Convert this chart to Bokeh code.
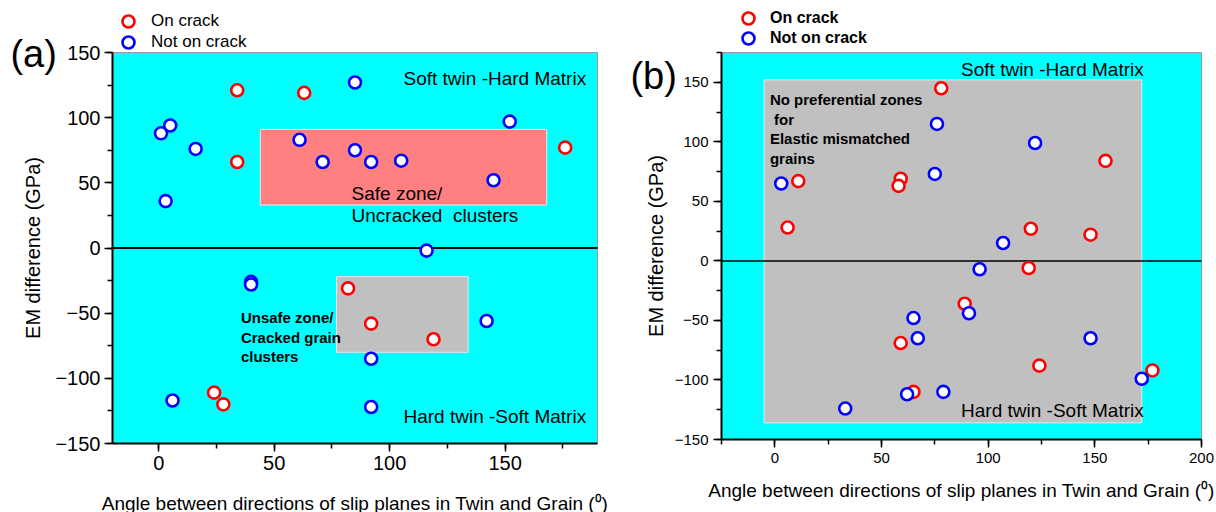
from bokeh.plotting import figure
from bokeh.models import (Range1d, SingleIntervalTicker, LinearAxis, Label, Legend,
                          LegendItem)
from bokeh.layouts import row
from bokeh.embed import file_html
from bokeh.resources import INLINE

FONT = "Liberation Sans"
CYAN = "#00FFFF"
RED = "#FF0000"
BLUE = "#0000FF"
NB = "\u00a0"

# ---- panel (a): angle (deg) vs elastic modulus difference (GPa)
a_crack_angle = [34, 63, 34, 176, 82, 92, 119, 24, 28]
a_crack_em = [121, 119, 66, 77, -31, -58, -70, -111, -120]
a_free_angle = [1, 5, 16, 3, 61, 85, 71, 85, 92, 105, 152, 145, 116, 40, 40, 142, 92, 92, 6]
a_free_em = [88, 94, 76, 36, 83, 127, 66, 75, 66, 67, 97, 52, -2, -26, -28, -56, -85, -122, -117]
a_x_limits = (-20, 190)
a_y_limits = (-150, 150)

# ---- panel (b)
b_crack_angle = [11, 6, 59, 58, 78, 155, 120, 148, 119, 89, 124, 177, 65, 59]
b_crack_em = [67, 28, 69, 63, 145, 84, 27, 22, -6, -36, -88, -92, -110, -69]
b_free_angle = [3, 76, 75, 122, 107, 96, 91, 148, 172, 79, 65, 67, 62, 33]
b_free_em = [65, 115, 73, 99, 15, -7, -44, -65, -99, -110, -48, -65, -112, -124]
b_x_limits = (-25, 200)
b_y_limits = (-150, 175)

# zone rectangles: (left, right, bottom, top) in data units
a_safe_zone = (44, 168, 33, 91)
a_unsafe_zone = (77, 134, -80, -22)
b_neutral_zone = (-5, 172, -136, 152)

LEGEND_LABELS = ["On crack", "Not on crack"]
X_TITLE = "Angle between directions of slip planes in Twin and Grain (\u2070)"
Y_TITLE = "EM difference (GPa)"

W, H = 608, 512


def canvas_range(limits, px_lo, px_hi, px_size):
    """Range for the whole canvas so that the axis limits land on px_lo/px_hi."""
    lo, hi = limits
    scale = (px_hi - px_lo) / (hi - lo)
    return Range1d(lo - px_lo / scale, hi + (px_size - px_hi) / scale)


def make_panel(xlim, ylim, box, tick_size, y_title_standoff, x_title_standoff):
    # box = left, right, top, bottom pixel edges of the axes rectangle
    left, right, top, bottom = box
    p = figure(width=W, height=H, output_backend="svg", toolbar_location=None,
               x_axis_type=None, y_axis_type=None,
               x_range=canvas_range(xlim, left, right, W),
               y_range=canvas_range(ylim, H - bottom, H - top, H),
               min_border=0)
    p.background_fill_color = "white"
    p.border_fill_color = "white"
    p.outline_line_color = None

    # plotting area
    p.quad(left=[xlim[0]], right=[xlim[1]], bottom=[ylim[0]], top=[ylim[1]],
           fill_color=CYAN, line_color="#9a9a9a", line_width=1)

    xaxis = LinearAxis(fixed_location=ylim[0], bounds=xlim,
                       ticker=SingleIntervalTicker(interval=50, num_minor_ticks=2))
    yaxis = LinearAxis(fixed_location=xlim[0], bounds=ylim,
                       ticker=SingleIntervalTicker(interval=50, num_minor_ticks=2))
    for ax in (xaxis, yaxis):
        ax.axis_line_color = "black"
        ax.axis_line_width = 2
        ax.major_tick_line_color = "black"
        ax.major_tick_line_width = 1.5
        ax.minor_tick_line_color = "black"
        ax.minor_tick_line_width = 1.5
        ax.major_tick_in = 0
        ax.major_tick_out = 8
        ax.minor_tick_in = 0
        ax.minor_tick_out = 5
        ax.major_label_text_font = FONT
        ax.major_label_text_font_size = tick_size
        ax.major_label_text_color = "black"
        ax.axis_label_text_font = FONT
        ax.axis_label_text_font_style = "normal"
        ax.axis_label_text_color = "black"
        ax.major_label_standoff = 4
    xaxis.axis_label = X_TITLE
    yaxis.axis_label = Y_TITLE
    xaxis.axis_label_text_font_size = "19px"
    yaxis.axis_label_text_font_size = "20px"
    xaxis.axis_label_standoff = x_title_standoff
    yaxis.axis_label_standoff = y_title_standoff
    p.add_layout(xaxis, "below")
    p.add_layout(yaxis, "left")
    return p, xaxis, yaxis


def add_zone(p, zone, color):
    l, r, b, t = zone
    p.quad(left=[l], right=[r], bottom=[b], top=[t], fill_color=color,
           line_color="#e8e8e8", line_width=1)


def add_zero_line(p, xlim, width):
    p.line(x=list(xlim), y=[0, 0], line_color="black", line_width=width)


def add_points(p, cx, cy, fx, fy):
    rc = p.scatter(x=cx, y=cy, size=12, marker="circle", fill_color="white",
                   line_color=RED, line_width=2.6)
    rf = p.scatter(x=fx, y=fy, size=12, marker="circle", fill_color="white",
                   line_color=BLUE, line_width=2.6)
    return rc, rf


def add_text(p, x, y, text, size, bold=False):
    p.add_layout(Label(x=x, y=y, text=text, text_font=FONT, text_font_size=size,
                       text_font_style="bold" if bold else "normal",
                       text_color="black", text_align="left", text_baseline="middle"))


def add_legend(p, renderers, x, ys, bold, standoff, size):
    # one single-entry legend per row, stacked above the plotting area
    for label, rend, y in zip(LEGEND_LABELS, renderers, ys):
        leg = Legend(items=[LegendItem(label=label, renderers=[rend])],
                     location=(x, y), orientation="vertical",
                     border_line_color=None, background_fill_alpha=0,
                     padding=0, margin=0, spacing=0, glyph_width=30, glyph_height=30,
                     label_height=20, label_standoff=standoff,
                     label_text_font=FONT, label_text_font_size=size,
                     label_text_font_style="bold" if bold else "normal",
                     label_text_color="black")
        p.add_layout(leg)


# ---------------- panel (a)
pa, ax_a, ay_a = make_panel(a_x_limits, a_y_limits, (112, 597, 52, 443), "20px", 8, 20)
add_zone(pa, a_safe_zone, "#FF8080")
add_zone(pa, a_unsafe_zone, "#C0C0C0")
add_zero_line(pa, a_x_limits, 2)
rc, rf = add_points(pa, a_crack_angle, a_crack_em, a_free_angle, a_free_em)
add_text(pa, 106, 130, "Soft twin -Hard Matrix", "19px")
add_text(pa, 106, -129, "Hard twin -Soft Matrix", "19px")
add_text(pa, 83.5, 42, "Safe zone/", "19px")
add_text(pa, 83.5, 25, "Uncracked" + NB + NB + "clusters", "19px")
add_text(pa, 35.6, -53, "Unsafe zone/", "15px", bold=True)
add_text(pa, 35.6, -68.5, "Cracked grain", "15px", bold=True)
add_text(pa, 35.6, -83.5, "clusters", "15px", bold=True)
add_text(pa, -64.2, 149.2, "(a)", "38px")
add_legend(pa, [rc, rf], 113, [476, 455], False, 8, "17px")

# ---------------- panel (b)
pb, ax_b, ay_b = make_panel(b_x_limits, b_y_limits, (113, 593, 52, 439), "15px", 5, 14)
ax_b.major_label_standoff = 5
ay_b.major_label_standoff = 5
add_zone(pb, b_neutral_zone, "#C0C0C0")
add_zero_line(pb, b_x_limits, 1.5)
rc, rf = add_points(pb, b_crack_angle, b_crack_em, b_free_angle, b_free_em)
add_text(pb, 87.3, 161, "Soft twin -Hard Matrix", "19px")
add_text(pb, 87.3, -125.5, "Hard twin -Soft Matrix", "19px")
add_text(pb, -2.3, 135.5, "No preferential zones", "15px", bold=True)
add_text(pb, -2.3, 118.7, NB + "for", "15px", bold=True)
add_text(pb, -2.3, 102.4, "Elastic mismatched", "15px", bold=True)
add_text(pb, -2.3, 85.6, "grains", "15px", bold=True)
add_text(pb, -67.7, 155, "(b)", "38px")
add_legend(pb, [rc, rf], 125, [479, 459], True, 7, "16px")

layout = row(pa, pb, spacing=0)
open("out.html", "w").write(file_html(layout, INLINE))
